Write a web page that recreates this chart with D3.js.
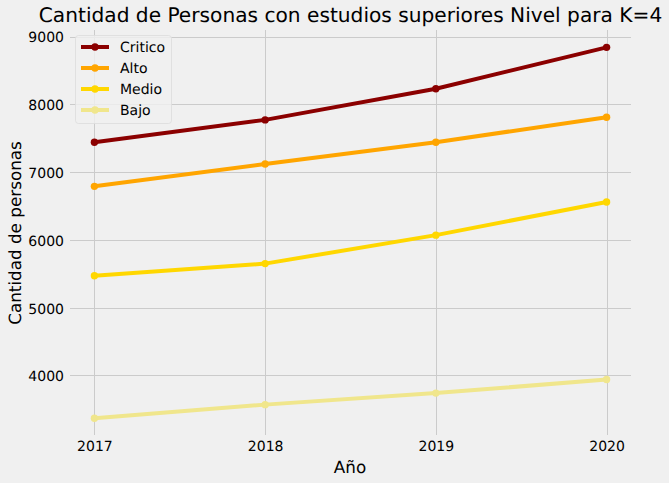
<!DOCTYPE html>
<html>
<head>
<meta charset="utf-8">
<script src="https://cdn.jsdelivr.net/npm/d3@7"></script>
<style>
html, body { margin: 0; padding: 0; background: #f0f0f0; }
svg { display: block; text-rendering: geometricPrecision; }
text { font-family: "DejaVu Sans", sans-serif; fill: #000; }
</style>
</head>
<body>
<div id="chart"></div>
<script>
var years = [2017, 2018, 2019, 2020]
var yTicks = [4000, 5000, 6000, 7000, 8000, 9000]
var critico = [7440, 7770, 8230, 8840]
var alto = [6790, 7120, 7440, 7810]
var medio = [5470, 5650, 6070, 6560]
var bajo = [3370, 3570, 3740, 3940]
var seriesNames = ["Critico", "Alto", "Medio", "Bajo"]
var seriesColors = ["#8b0000", "#ffa500", "#ffd700", "#f0e68c"]
var seriesValues = [critico, alto, medio, bajo]

var W = 669, H = 483
var left = 70, right = 631, top_ = 30, bottom = 435

var svg = d3.select("#chart").append("svg")
    .attr("width", W)
    .attr("height", H)

svg.append("rect").attr("width", W).attr("height", H).style("fill", "#f0f0f0")

var x = d3.scaleLinear().domain([2016.857, 2020.143]).range([left, right])
var y = d3.scaleLinear().domain([3122, 9096]).range([bottom, top_])

// axes, the ticks double as grid
var xAxis = d3.axisBottom(x).tickValues(years).tickFormat(d3.format("d")).tickSize(-(bottom - top_))
var yAxis = d3.axisLeft(y).tickValues(yTicks).tickFormat(d3.format("d")).tickSize(-(right - left))

var gx = svg.append("g").attr("transform", "translate(0," + bottom + ")").call(xAxis)
var gy = svg.append("g").attr("transform", "translate(" + left + ",0)").call(yAxis)

;[gx, gy].forEach(function(g) {
    g.select(".domain").remove()
    g.selectAll(".tick line").style("stroke", "#cbcbcb").style("stroke-width", 1).style("shape-rendering", "crispEdges")
    g.selectAll(".tick text").style("font-size", "14px").style("font-family", "'DejaVu Sans'").style("fill", "#000")
})
gx.selectAll(".tick text").attr("y", 6)
gy.selectAll(".tick text").attr("x", -6).attr("dy", "0.38em")

var line = d3.line()
    .x(function(d, i) { return x(years[i]) })
    .y(function(d) { return y(d) })

seriesValues.forEach(function(vals, s) {
    svg.append("path")
        .attr("d", line(vals))
        .style("fill", "none")
        .style("stroke", seriesColors[s])
        .style("stroke-width", 4)
    svg.append("g").selectAll("circle")
        .data(vals)
        .enter().append("circle")
        .attr("cx", function(d, i) { return x(years[i]) })
        .attr("cy", function(d) { return y(d) })
        .attr("r", 3.7)
        .style("fill", seriesColors[s])
})

// legend
var legend = svg.append("g")
legend.append("rect")
    .attr("x", 75.5).attr("y", 35.5)
    .attr("width", 96).attr("height", 88)
    .attr("rx", 3)
    .style("fill", "#f0f0f0")
    .style("fill-opacity", 0.8)
    .style("stroke", "#dcdcdc")
    .style("stroke-opacity", 0.8)

seriesNames.forEach(function(name, i) {
    var ly = 47 + i * 21
    legend.append("line")
        .attr("x1", 81).attr("x2", 109)
        .attr("y1", ly).attr("y2", ly)
        .style("stroke", seriesColors[i])
        .style("stroke-width", 4)
    legend.append("circle")
        .attr("cx", 95).attr("cy", ly).attr("r", 3.7)
        .style("fill", seriesColors[i])
    legend.append("text")
        .attr("x", 120).attr("y", ly + 5)
        .style("font-size", "14px")
        .text(name)
})

svg.append("text")
    .attr("x", 350.5).attr("y", 22)
    .attr("text-anchor", "middle")
    .style("font-size", "20.16px")
    .text("Cantidad de Personas con estudios superiores Nivel para K=4")

svg.append("text")
    .attr("x", 350).attr("y", 473)
    .attr("text-anchor", "middle")
    .style("font-size", "16.8px")
    .text("Año")

svg.append("text")
    .attr("transform", "translate(21,233) rotate(-90)")
    .attr("text-anchor", "middle")
    .style("font-size", "16.8px")
    .text("Cantidad de personas")
</script>
</body>
</html>
